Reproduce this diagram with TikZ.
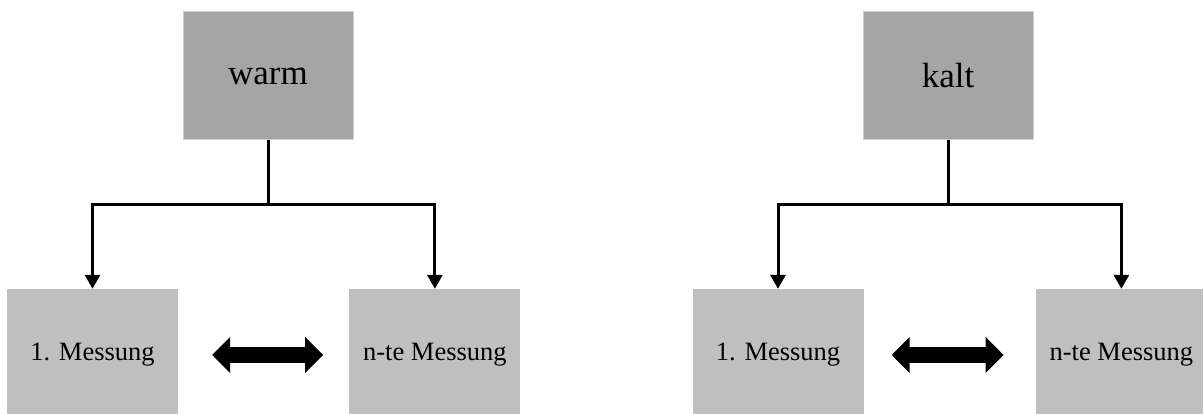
\documentclass[tikz,border=0pt]{standalone}
\usepackage{fontspec}
\setmainfont{Liberation Serif}
\usetikzlibrary{arrows.meta, positioning}

\definecolor{topgray}{HTML}{A5A5A5}
\definecolor{boxgray}{HTML}{BFBFBF}
\definecolor{rimgray}{HTML}{CFCFCF}

\begin{document}
\begin{tikzpicture}[x=1pt, y=1pt, node distance=171pt,
	temp/.style={fill=topgray, draw=rimgray, line width=1pt, minimum width=170pt, minimum height=128pt, inner sep=0pt, font=\fontsize{35}{40}\selectfont},
	meas/.style={fill=boxgray, minimum width=171pt, minimum height=132pt, inner sep=0pt, font=\fontsize{26.5}{30}\selectfont},
	tree/.style={line width=3pt, -{Triangle[length=14pt, width=15pt]}},
	swap/.style={line width=16pt, {Triangle[length=18pt, width=35pt]}-{Triangle[length=18pt, width=35pt]}}]
	\useasboundingbox (0,0) rectangle (1203,414);
		% warm
		\node[temp] (warm) at (268,338) {warm};
		\node[meas] (warm1) at (92.5,59) {1. Messung};
		\node[meas, right =of warm1] (warmn) {n-te Messung};
		% kalt
		\node[temp] (kalt) at (948,338) {kalt};
		\node[meas] (kalt1) at (778,59) {1. Messung};
		\node[meas, right =172pt of kalt1] (kaltn) {n-te Messung};
		\foreach \top/\a/\b in {warm/warm1/warmn, kalt/kalt1/kaltn} {
			\draw[tree] (\top.south) -- ++(0,-64) -| (\a.north);
			\draw[tree] (\top.south) -- ++(0,-64) -| (\b.north);
		}
		\draw[swap, shorten <=34pt, shorten >=26pt] (warm1.east) -- (warmn.west);
		\draw[swap, shorten <=28pt, shorten >=32pt] (kalt1.east) -- (kaltn.west);
	\end{tikzpicture}
\end{document}
